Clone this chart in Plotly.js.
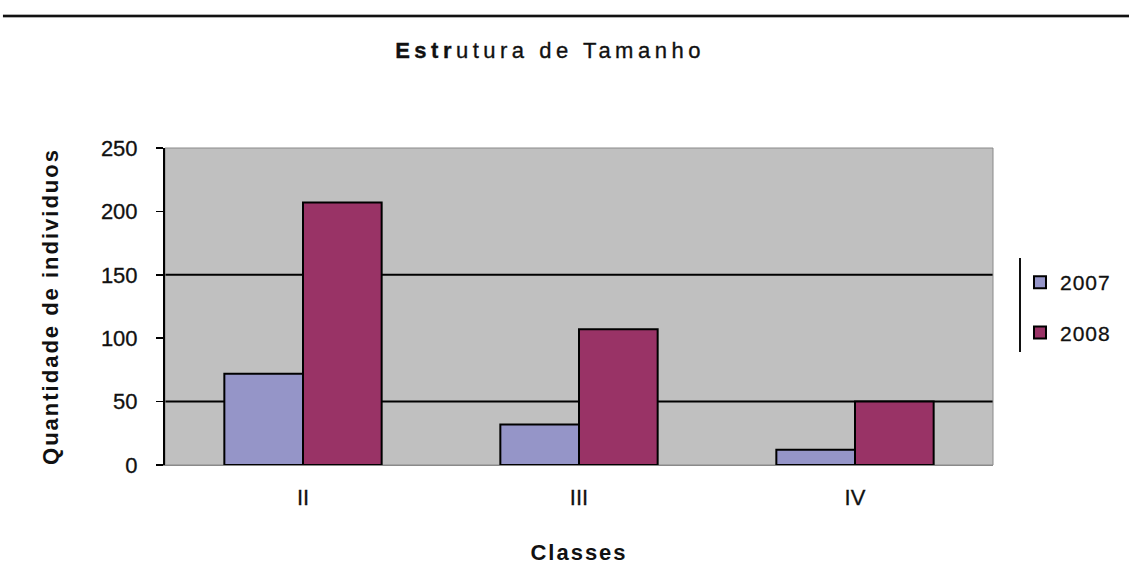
<!DOCTYPE html>
<html>
<head>
<meta charset="utf-8">
<script src="https://cdn.plot.ly/plotly-3.0.1.min.js"></script>
<style>
  html, body { margin: 0; padding: 0; background: #fff; }
  #chart { width: 1129px; height: 565px; }
  .gtitle { letter-spacing: 4.5px; stroke: #111; stroke-width: 0.35px; }
  .xtitle, .ytitle { letter-spacing: 2px; }
  .legendtext { letter-spacing: 1px; stroke: #111; stroke-width: 0.3px; }
  .xtick text, .ytick text { stroke: #111; stroke-width: 0.3px; }
</style>
</head>
<body>
<div id="chart"></div>
<script>
// ---- data ----
const categories = ['II', 'III', 'IV'];
const values2007 = [72, 32, 12];
const values2008 = [207, 107, 50];
const seriesNames = ['2007', '2008'];
const yTickValues = [0, 50, 100, 150, 200, 250];
const gridValues = [50, 150];

const FONT = '"Liberation Sans", Arial, sans-serif';

const traces = [
  {
    type: 'bar', name: seriesNames[0], x: categories, y: values2007,
    legendgroup: 'a',
    marker: { color: '#9595C8', line: { color: '#000', width: 2 } }
  },
  {
    type: 'bar', name: seriesNames[1], x: categories, y: values2008,
    legendgroup: 'b',
    marker: { color: '#993366', line: { color: '#000', width: 2 } }
  }
];

const shapes = gridValues.map(v => ({
  type: 'line', layer: 'below', xref: 'paper', yref: 'y',
  x0: 0, x1: 1, y0: v, y1: v,
  line: { color: '#000', width: 2 }
}));
// plot area border (top/right grey)
shapes.push({
  type: 'rect', layer: 'below', xref: 'paper', yref: 'paper',
  x0: 0, x1: 1, y0: 0, y1: 1,
  line: { color: '#8a8a8a', width: 1 }
});
// decorative top rule
shapes.push({
  type: 'line', xref: 'paper', yref: 'paper',
  x0: -0.1957, x1: 1.17, y0: 1.4164, y1: 1.4164,
  line: { color: '#b0b0b0', width: 4 }
});
shapes.push({
  type: 'line', xref: 'paper', yref: 'paper',
  x0: -0.1957, x1: 1.17, y0: 1.4164, y1: 1.4164,
  line: { color: '#111', width: 2 }
});
// legend left border line
shapes.push({
  type: 'line', xref: 'paper', yref: 'paper',
  x0: 1.0326, x1: 1.0326, y0: 0.3565, y1: 0.653,
  line: { color: '#111', width: 2 }
});

const layout = {
  width: 1129, height: 565,
  margin: { l: 165, r: 136, t: 148, b: 100, pad: 0 },
  paper_bgcolor: '#ffffff',
  plot_bgcolor: '#c0c0c0',
  font: { family: FONT, size: 22, color: '#111' },
  title: {
    text: '<b>Estr</b>utura de Tamanho',
    font: { family: FONT, size: 22, color: '#111' },
    xref: 'paper', x: 0.465, xanchor: 'center',
    yref: 'container', y: 0.9115, yanchor: 'middle'
  },
  barmode: 'group',
  bargap: 0.43,
  bargroupgap: 0,
  xaxis: {
    type: 'category',
    showline: true, linecolor: '#8a8a8a', linewidth: 1,
    ticks: '',
    showgrid: false, zeroline: false,
    ticklabelstandoff: 13,
    tickfont: { family: FONT, size: 22, color: '#111' },
    title: {
      text: 'Classes',
      font: { family: FONT, size: 22, color: '#111', weight: 'bold' },
      standoff: 36
    }
  },
  yaxis: {
    range: [0, 250], tickvals: yTickValues, ticktext: yTickValues.map(String),
    showline: true, linecolor: '#000', linewidth: 2,
    ticks: 'outside', ticklen: 7, tickcolor: '#000', tickwidth: 1.5,
    showgrid: false, zeroline: false,
    ticklabelstandoff: 14,
    tickfont: { family: FONT, size: 22, color: '#111' },
    title: {
      text: 'Quantidade de individuos',
      font: { family: FONT, size: 22, color: '#111', weight: 'bold' },
      standoff: 36
    }
  },
  showlegend: true,
  legend: {
    x: 1.0326, xanchor: 'left', y: 0.64, yanchor: 'top',
    traceorder: 'grouped', tracegroupgap: 20,
    bgcolor: 'rgba(0,0,0,0)', borderwidth: 0,
    font: { family: FONT, size: 21, color: '#111' }
  },
  shapes: shapes
};

Plotly.newPlot('chart', traces, layout, { displayModeBar: false, staticPlot: true });
</script>
</body>
</html>
